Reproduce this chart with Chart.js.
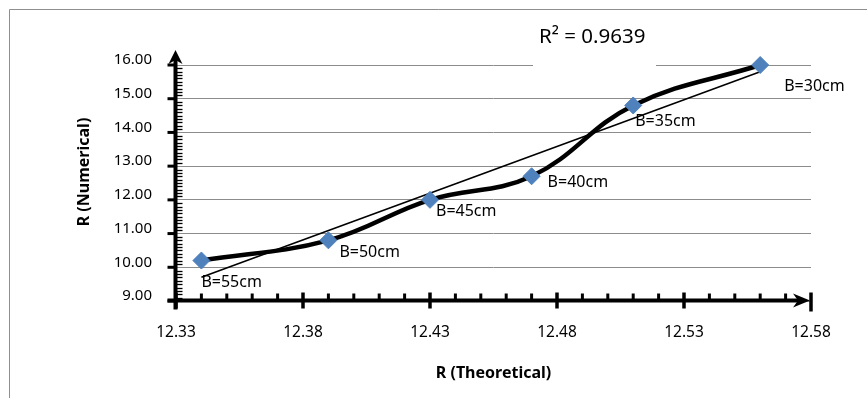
<!DOCTYPE html>
<html>
<head>
<meta charset="utf-8">
<script src="https://cdn.jsdelivr.net/npm/chart.js@4.4.1/dist/chart.umd.min.js"></script>
<style>
    body { margin: 0; background: #fff; }
    canvas { display: block; }
</style>
</head>
<body>
<canvas id="chart" width="867" height="398"></canvas>
<script>
const xValues = [12.34, 12.39, 12.43, 12.47, 12.51, 12.56];
const yValues = [10.2, 10.8, 12.0, 12.7, 14.8, 16.0];
const pointLabels = ['B=55cm', 'B=50cm', 'B=45cm', 'B=40cm', 'B=35cm', 'B=30cm'];
const xTicks = [12.33, 12.38, 12.43, 12.48, 12.53, 12.58];
const yTicks = [9, 10, 11, 12, 13, 14, 15, 16];
const rSquaredText = 'R\u00B2 = 0.9639';
const xTitle = 'R (Theoretical)';
const yTitle = 'R (Numerical)';

// where each data label sits relative to its marker (px)
const labelOffsets = [[0, 22], [11, 12], [6, 12], [16, 6], [2, 16], [24, 21]];

const FONT = '"Noto Sans", "Open Sans", sans-serif';

function linearFit(xs, ys) {
    const n = xs.length;
    const mx = xs.reduce((a, b) => a + b, 0) / n;
    const my = ys.reduce((a, b) => a + b, 0) / n;
    let sxy = 0, sxx = 0;
    for (let i = 0; i < n; i++) {
        sxy += (xs[i] - mx) * (ys[i] - my);
        sxx += (xs[i] - mx) * (xs[i] - mx);
    }
    const slope = sxy / sxx;
    return { slope: slope, intercept: my - slope * mx };
}

const fit = linearFit(xValues, yValues);
const trendData = [xValues[0], xValues[xValues.length - 1]].map(x => ({ x: x, y: fit.intercept + fit.slope * x }));
const seriesData = xValues.map((x, i) => ({ x: x, y: yValues[i] }));

const excelLook = {
    id: 'excelLook',
    beforeDraw(chart) {
        const ctx = chart.ctx;
        ctx.save();
        ctx.strokeStyle = '#8f8f8f';
        ctx.lineWidth = 1;
        ctx.beginPath();
        ctx.moveTo(9.5, 398);
        ctx.lineTo(9.5, 9.5);
        ctx.lineTo(867, 9.5);
        ctx.stroke();
        ctx.restore();
    },
    beforeDatasetsDraw(chart) {
        const ctx = chart.ctx;
        const xs = chart.scales.x, ys = chart.scales.y;
        const x0 = xs.getPixelForValue(xTicks[0]) - 0.5;
        const y0 = ys.getPixelForValue(yTicks[0]) - 0.5;
        const xEnd = xs.getPixelForValue(xTicks[xTicks.length - 1]);
        const yEnd = ys.getPixelForValue(yTicks[yTicks.length - 1]);
        ctx.save();

        // white box behind the R² label
        ctx.fillStyle = '#fff';
        ctx.fillRect(533, 22, 123, 47);
        ctx.fillStyle = '#000';
        ctx.font = '20.5px ' + FONT;
        ctx.textBaseline = 'alphabetic';
        ctx.textAlign = 'left';
        ctx.fillText(rSquaredText, 539, 43);

        ctx.strokeStyle = '#000';
        ctx.fillStyle = '#000';

        // y minor ticks (inside)
        ctx.lineWidth = 1.3;
        for (let v = yTicks[0] * 10; v <= yTicks[yTicks.length - 1] * 10; v++) {
            if (v % 10 === 0) continue;
            const py = Math.round(ys.getPixelForValue(v / 10)) + 0.5;
            ctx.beginPath();
            ctx.moveTo(x0, py);
            ctx.lineTo(x0 + 7, py);
            ctx.stroke();
        }
        // y major ticks (outside)
        ctx.lineWidth = 3;
        yTicks.forEach(v => {
            const py = ys.getPixelForValue(v);
            ctx.beginPath();
            ctx.moveTo(x0 - 8, py);
            ctx.lineTo(x0, py);
            ctx.stroke();
        });
        // x minor ticks (inside)
        ctx.lineWidth = 3;
        for (let v = Math.round(xTicks[0] * 100); v <= Math.round(xTicks[xTicks.length - 1] * 100); v++) {
            if ((v - Math.round(xTicks[0] * 100)) % 5 === 0) continue;
            const px = xs.getPixelForValue(v / 100);
            ctx.beginPath();
            ctx.moveTo(px, y0);
            ctx.lineTo(px, y0 - 7);
            ctx.stroke();
        }
        // x major ticks (cross)
        ctx.lineWidth = 3.5;
        xTicks.forEach(v => {
            const px = xs.getPixelForValue(v);
            ctx.beginPath();
            ctx.moveTo(px, y0 - 8);
            ctx.lineTo(px, y0 + (v === xTicks[xTicks.length - 1] ? 11 : 8));
            ctx.stroke();
        });

        // axis lines
        ctx.lineWidth = 4;
        ctx.beginPath();
        ctx.moveTo(x0 - 8, y0);
        ctx.lineTo(xEnd - 10, y0);
        ctx.stroke();
        ctx.beginPath();
        ctx.moveTo(x0, y0 + 9);
        ctx.lineTo(x0, yEnd - 8);
        ctx.stroke();

        // arrow heads
        ctx.beginPath();
        ctx.moveTo(xEnd - 1, y0);
        ctx.lineTo(xEnd - 18, y0 - 7);
        ctx.lineTo(xEnd - 13, y0);
        ctx.lineTo(xEnd - 18, y0 + 7);
        ctx.closePath();
        ctx.fill();
        ctx.beginPath();
        ctx.moveTo(x0, yEnd - 15);
        ctx.lineTo(x0 - 7, yEnd - 1);
        ctx.lineTo(x0, yEnd - 5);
        ctx.lineTo(x0 + 7, yEnd - 1);
        ctx.closePath();
        ctx.fill();

        // y axis title
        ctx.font = 'bold 16px ' + FONT;
        ctx.textAlign = 'center';
        ctx.textBaseline = 'middle';
        ctx.translate(84, 172);
        ctx.rotate(-Math.PI / 2);
        ctx.fillText(yTitle, 0, 0);
        ctx.restore();
    },
    afterDatasetsDraw(chart) {
        const ctx = chart.ctx;
        const meta = chart.getDatasetMeta(0);
        ctx.save();
        ctx.fillStyle = '#000';
        ctx.font = '16px ' + FONT;
        ctx.textAlign = 'left';
        ctx.textBaseline = 'middle';
        meta.data.forEach((pt, i) => {
            ctx.fillText(pointLabels[i], pt.x + labelOffsets[i][0], pt.y + labelOffsets[i][1]);
        });
        ctx.restore();
    }
};

new Chart(document.getElementById('chart').getContext('2d'), {
    type: 'scatter',
    data: {
        datasets: [
            {
                label: 'R',
                data: seriesData,
                showLine: true,
                tension: 0.4,
                borderColor: '#000',
                borderWidth: 4.5,
                pointStyle: 'rectRot',
                pointRadius: 8.5,
                pointBackgroundColor: '#4F81BD',
                pointBorderColor: '#4F81BD',
                pointBorderWidth: 1,
                clip: false
            },
            {
                label: 'Linear',
                data: trendData,
                showLine: true,
                tension: 0,
                borderColor: '#000',
                borderWidth: 1.6,
                pointRadius: 0,
                clip: false
            }
        ]
    },
    options: {
        responsive: false,
        animation: false,
        events: [],
        layout: { padding: { left: 0, top: 65, right: 56, bottom: 0 } },
        elements: { line: { capBezierPoints: false } },
        plugins: {
            legend: { display: false },
            tooltip: { enabled: false }
        },
        scales: {
            x: {
                type: 'linear',
                min: xTicks[0],
                max: xTicks[xTicks.length - 1],
                afterBuildTicks: scale => { scale.ticks = xTicks.map(v => ({ value: v })); },
                afterFit: scale => { scale.height = 97; },
                grid: { display: false, drawTicks: false },
                border: { display: false },
                ticks: {
                    padding: 22,
                    maxRotation: 0,
                    autoSkip: false,
                    color: '#000',
                    font: { family: FONT, size: 15.5 },
                    callback: v => v.toFixed(2)
                },
                title: {
                    display: true,
                    text: xTitle,
                    color: '#000',
                    font: { family: FONT, size: 16, weight: 'bold' },
                    padding: { top: 0, bottom: 15 }
                }
            },
            y: {
                type: 'linear',
                min: yTicks[0],
                max: yTicks[yTicks.length - 1],
                afterBuildTicks: scale => { scale.ticks = yTicks.map(v => ({ value: v })); },
                afterFit: scale => { scale.width = 176; },
                grid: { color: '#8c8c8c', lineWidth: 1, drawTicks: false },
                border: { display: false },
                ticks: {
                    padding: 24,
                    labelOffset: -5,
                    autoSkip: false,
                    color: '#000',
                    font: { family: FONT, size: 15 },
                    callback: v => v.toFixed(2)
                }
            }
        }
    },
    plugins: [excelLook]
});
</script>
</body>
</html>
